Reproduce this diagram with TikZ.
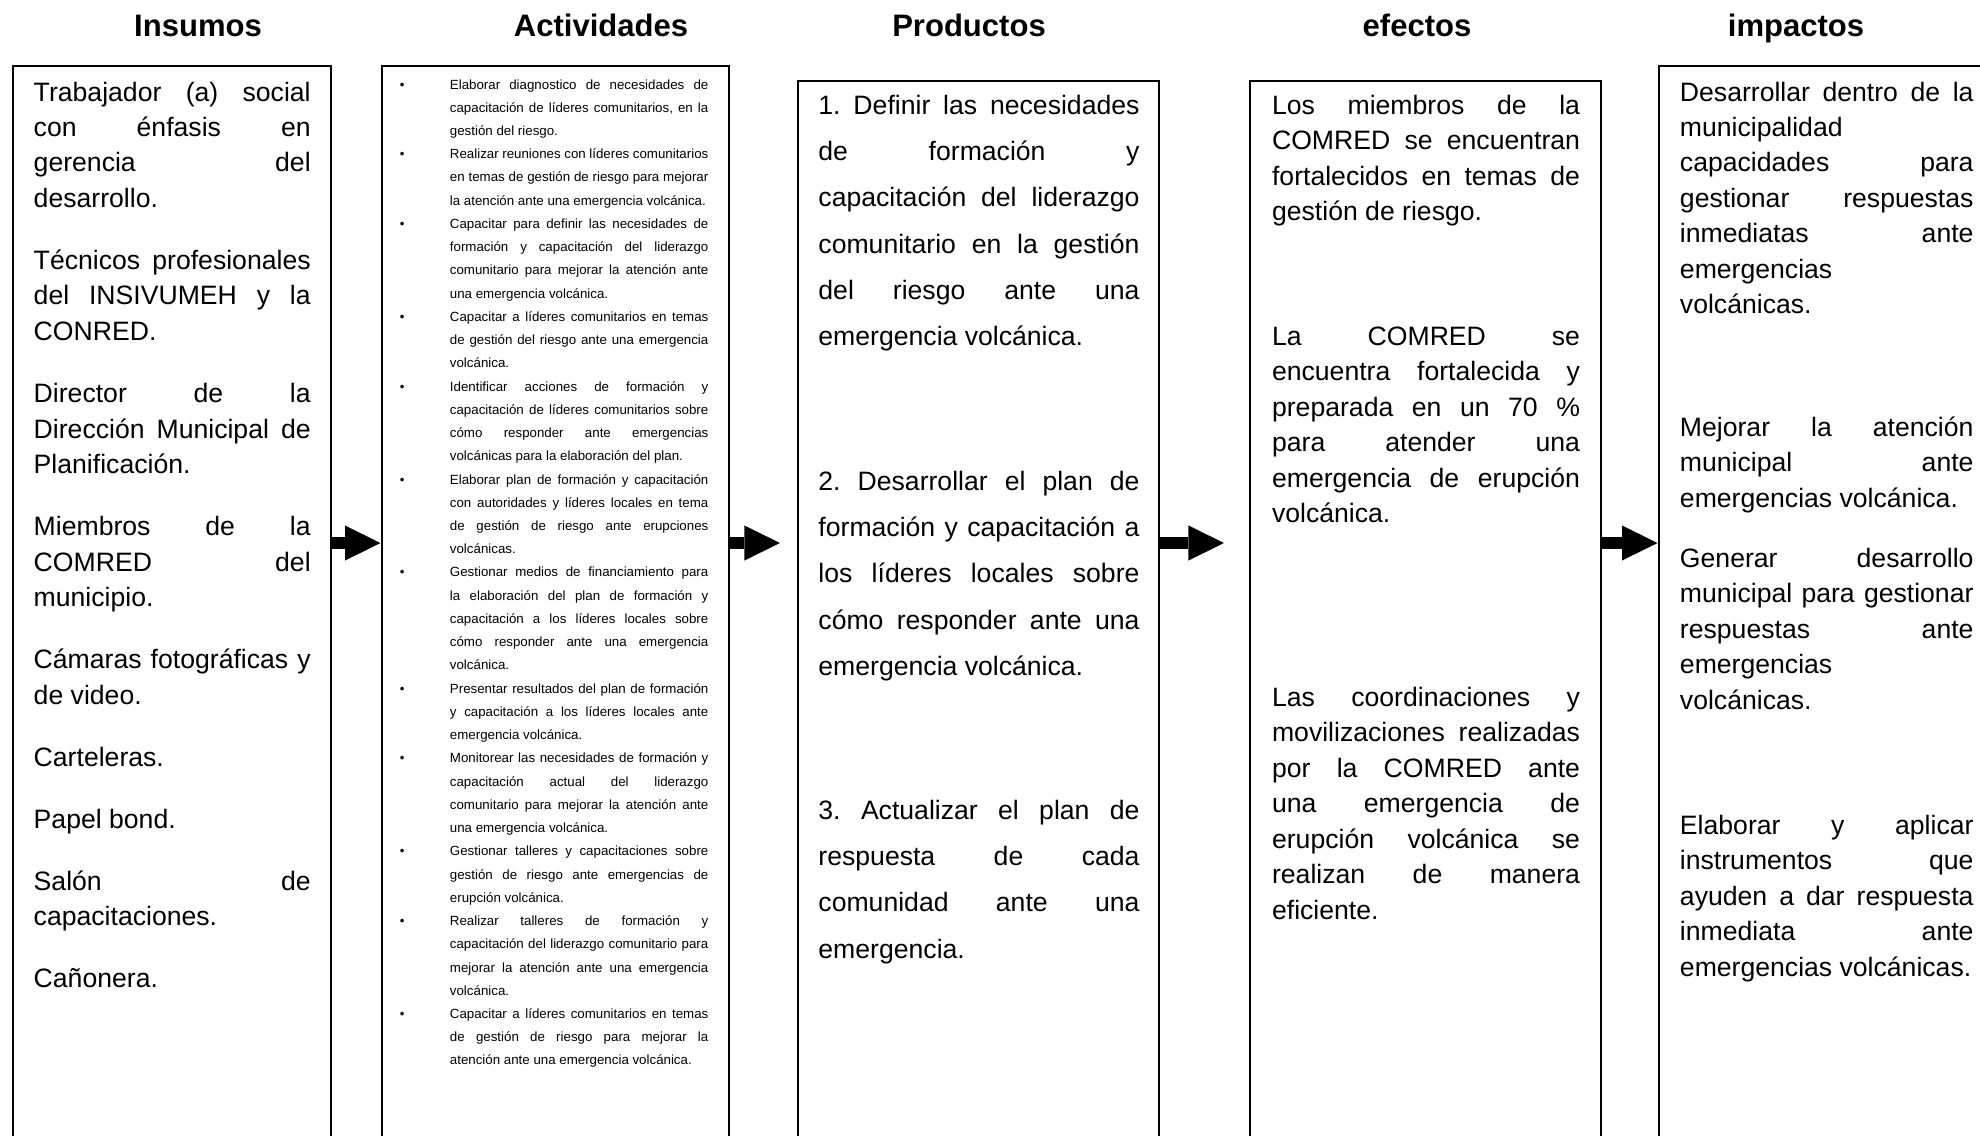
\documentclass[tikz,border=0pt]{standalone}
\usepackage{fontspec}
\setmainfont{Liberation Sans}
\usetikzlibrary{arrows.meta,fit}
\frenchspacing

% bullet for the list of activities
\newcommand{\actitem}{\hangindent=22.55pt\hangafter=1\makebox[22.55pt][l]{\textbullet}}

\tikzset{
  box/.style={draw, line width=0.9pt, inner sep=0pt},
  head/.style={anchor=base, inner sep=0pt, font=\bfseries\fontsize{14pt}{17pt}\selectfont},
  justified/.style={align=justify,
    execute at begin node={\rightskip=0pt\parfillskip=0pt plus 1fil\tolerance=10000\hbadness=10000\hyphenpenalty=10000\exhyphenpenalty=10000}},
  txt/.style={justified, anchor=base west, inner sep=0pt, font=\fontsize{12pt}{16pt}\selectfont,
    execute at begin node={\setlength{\parskip}{12pt}}},
  smalltxt/.style={justified, anchor=base west, inner sep=0pt, font=\fontsize{6pt}{10.48pt}\selectfont},
  bigarrow/.style={line width=5.2pt, -{Triangle[length=16pt,width=15.8pt,line width=0pt]}},
}

\begin{document}
\begin{tikzpicture}[x=0.451pt, y=-0.451pt]
  \useasboundingbox (0,0) rectangle (1980,1135);
  \clip (0,0) rectangle (1980,1135);

  % headings
  \node[head] (hin) at (198,36) {Insumos};
  \node[head] (hact) at (601,36) {Actividades};
  \node[head] (hprod) at (969,36) {Productos};
  \node[head] (heff) at (1417,36) {efectos};
  \node[head] (himp) at (1796,36) {impactos};

  % columns
  \node[box, fit={(13,66) (331,1300)}] (inbox) {};
  \node[box, fit={(381.5,66) (729,1300)}] (actbox) {};
  \node[box, fit={(798,81) (1158.5,1300)}] (prodbox) {};
  \node[box, fit={(1250,81) (1601,1300)}] (effbox) {};
  \node[box, fit={(1658.5,66) (2060,1300)}] (impbox) {};

  % insumos
  \node[txt, text width=124.9pt] (ins) at (33.3,101) {%
    Trabajador (a) social\linebreak con énfasis en\linebreak gerencia del\linebreak desarrollo.\par
    Técnicos profesionales\linebreak del INSIVUMEH y la\linebreak CONRED.\par
    Director de la\linebreak Dirección Municipal de\linebreak Planificación.\par
    Miembros de la\linebreak COMRED del\linebreak municipio.\par
    Cámaras fotográficas y\linebreak de video.\par
    Carteleras.\par
    Papel bond.\par
    Salón de\linebreak capacitaciones.\par
    Cañonera.\par};

  % actividades
  \node[smalltxt, text width=139.1pt] (acts) at (399.5,89) {%
    \actitem Elaborar diagnostico de necesidades de\linebreak capacitación de líderes comunitarios, en la\linebreak gestión del riesgo.\par
    \actitem Realizar reuniones con líderes comunitarios\linebreak en temas de gestión de riesgo para mejorar\linebreak la atención ante una emergencia volcánica.\par
    \actitem Capacitar para definir las necesidades de\linebreak formación y capacitación del liderazgo\linebreak comunitario para mejorar la atención ante\linebreak una emergencia volcánica.\par
    \actitem Capacitar a líderes comunitarios en temas\linebreak de gestión del riesgo ante una emergencia\linebreak volcánica.\par
    \actitem Identificar acciones de formación y\linebreak capacitación de líderes comunitarios sobre\linebreak cómo responder ante emergencias\linebreak volcánicas para la elaboración del plan.\par
    \actitem Elaborar plan de formación y capacitación\linebreak con autoridades y líderes locales en tema\linebreak de gestión de riesgo ante erupciones\linebreak volcánicas.\par
    \actitem Gestionar medios de financiamiento para\linebreak la elaboración del plan de formación y\linebreak capacitación a los líderes locales sobre\linebreak cómo responder ante una emergencia\linebreak volcánica.\par
    \actitem Presentar resultados del plan de formación\linebreak y capacitación a los líderes locales ante\linebreak emergencia volcánica.\par
    \actitem Monitorear las necesidades de formación y\linebreak capacitación actual del liderazgo\linebreak comunitario para mejorar la atención ante\linebreak una emergencia volcánica.\par
    \actitem Gestionar talleres y capacitaciones sobre\linebreak gestión de riesgo ante emergencias de\linebreak erupción volcánica.\par
    \actitem Realizar talleres de formación y\linebreak capacitación del liderazgo comunitario para\linebreak mejorar la atención ante una emergencia\linebreak volcánica.\par
    \actitem Capacitar a líderes comunitarios en temas\linebreak de gestión de riesgo para mejorar la\linebreak atención ante una emergencia volcánica.\par};

  % productos
  \node[txt, text width=144.8pt, font=\fontsize{12pt}{20.85pt}\selectfont] (prod1) at (818,114.5) {%
    1. Definir las necesidades\linebreak de formación y\linebreak capacitación del liderazgo\linebreak comunitario en la gestión\linebreak del riesgo ante una\linebreak emergencia volcánica.};
  \node[txt, text width=144.8pt, font=\fontsize{12pt}{20.85pt}\selectfont] (prod2) at (818,490.5) {%
    2. Desarrollar el plan de\linebreak formación y capacitación a\linebreak los líderes locales sobre\linebreak cómo responder ante una\linebreak emergencia volcánica.};
  \node[txt, text width=144.8pt, font=\fontsize{12pt}{20.85pt}\selectfont] (prod3) at (818,819.5) {%
    3. Actualizar el plan de\linebreak respuesta de cada\linebreak comunidad ante una\linebreak emergencia.};

  % efectos
  \node[txt, text width=138.9pt] (eff1) at (1271.6,114.5) {%
    Los miembros de la\linebreak COMRED se encuentran\linebreak fortalecidos en temas de\linebreak gestión de riesgo.};
  \node[txt, text width=138.9pt] (eff2) at (1271.6,345.5) {%
    La COMRED se\linebreak encuentra fortalecida y\linebreak preparada en un 70 \%\linebreak para atender una\linebreak emergencia de erupción\linebreak volcánica.};
  \node[txt, text width=138.9pt] (eff3) at (1271.6,706.5) {%
    Las coordinaciones y\linebreak movilizaciones realizadas\linebreak por la COMRED ante\linebreak una emergencia de\linebreak erupción volcánica se\linebreak realizan de manera\linebreak eficiente.};

  % impactos
  \node[txt, text width=132.4pt] (imp1) at (1679.5,101) {%
    Desarrollar dentro de la\linebreak municipalidad\linebreak capacidades para\linebreak gestionar respuestas\linebreak inmediatas ante\linebreak emergencias\linebreak volcánicas.};
  \node[txt, text width=132.4pt] (imp2) at (1679.5,436.5) {%
    Mejorar la atención\linebreak municipal ante\linebreak emergencias volcánica.};
  \node[txt, text width=132.4pt] (imp3) at (1679.5,567.5) {%
    Generar desarrollo\linebreak municipal para gestionar\linebreak respuestas ante\linebreak emergencias\linebreak volcánicas.};
  \node[txt, text width=132.4pt] (imp4) at (1679.5,834.5) {%
    Elaborar y aplicar\linebreak instrumentos que\linebreak ayuden a dar respuesta\linebreak inmediata ante\linebreak emergencias volcánicas.};

  % arrows between columns
  \coordinate (mid) at (0,543);
  \draw[bigarrow] (inbox.east |- mid) -- (actbox.west |- mid);
  \draw[bigarrow, shorten >=7.7pt] (actbox.east |- mid) -- (prodbox.west |- mid);
  \draw[bigarrow, shorten >=11.3pt] (prodbox.east |- mid) -- (effbox.west |- mid);
  \draw[bigarrow] (effbox.east |- mid) -- (impbox.west |- mid);
\end{tikzpicture}
\end{document}
